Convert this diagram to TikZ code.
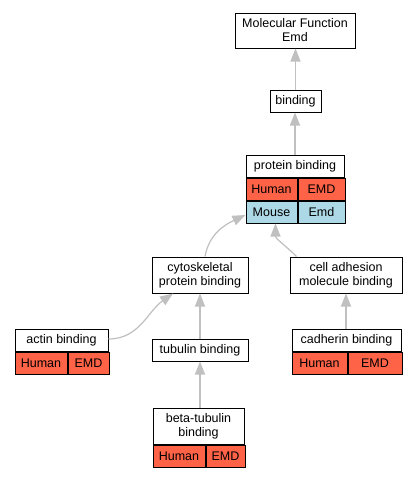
\documentclass[tikz,border=0pt]{standalone}
\usepackage{fontspec}
\setmainfont{Liberation Sans}
\usetikzlibrary{arrows.meta,positioning}
\definecolor{humanred}{HTML}{FF6347}
\definecolor{mouseblue}{HTML}{ADD8E6}
\definecolor{edgegray}{HTML}{C0C0C0}

\begin{document}
\begin{tikzpicture}[
		x=1pt, y=-1pt,
		every node/.style={font=\fontsize{12.5}{14}\selectfont},
		% Stijlen
		term/.style={draw=black, line width=1pt, fill=white, inner sep=0pt, align=center, minimum height=22pt},
		human/.style={term, fill=humanred},
		mouse/.style={term, fill=mouseblue},
		isa/.style={-{Triangle[length=13pt, width=10pt, fill=edgegray]}, draw=edgegray, line width=1.2pt}
	]

	% --- Canvas ---
	\fill[white] (0,0) rectangle (415,477);
	\useasboundingbox (0,0) rectangle (415,477);

	% --- 1. Bovenste termen ---
	\node[term, minimum width=120pt, minimum height=35pt] (mf) at (295,30.5) {Molecular Function\\Emd};
	\node[term, minimum width=51pt] (bind) at (295.5,101) {binding};

	% protein binding + orthologen
	\node[term, minimum width=98pt] (pb) at (295,166) {protein binding};
	\node[human, minimum width=51pt, anchor=north west] (pbH) at (pb.south west) {Human};
	\node[human, minimum width=47pt, right=0pt of pbH] (pbHg) {EMD};
	\node[mouse, minimum width=51pt, below=0pt of pbH] (pbM) {Mouse};
	\node[mouse, minimum width=47pt, right=0pt of pbM] (pbMg) {Emd};

	% --- 2. Middelste laag ---
	\node[term, minimum width=96pt, minimum height=36pt] (cyto) at (200,275) {cytoskeletal\\protein binding};
	\node[term, minimum width=112pt, minimum height=36pt] (cam) at (346,275) {cell adhesion\\molecule binding};

	% --- 3. Onderste laag ---
	\node[term, minimum width=93pt] (actin) at (61.5,340) {actin binding};
	\node[human, minimum width=52pt, anchor=north west] (actinH) at (actin.south west) {Human};
	\node[human, minimum width=41pt, right=0pt of actinH] (actinHg) {EMD};

	\node[term, minimum width=96pt] (tub) at (200,350) {tubulin binding};

	\node[term, minimum width=109pt] (cad) at (346.5,340) {cadherin binding};
	\node[human, minimum width=55pt, anchor=north west] (cadH) at (cad.south west) {Human};
	\node[human, minimum width=54pt, right=0pt of cadH] (cadHg) {EMD};

	\node[term, minimum width=91pt, minimum height=36pt] (btub) at (198.5,426) {beta-tubulin\\binding};
	\node[human, minimum width=52pt, anchor=north west] (btubH) at (btub.south west) {Human};
	\node[human, minimum width=39pt, right=0pt of btubH] (btubHg) {EMD};

	% --- 4. is_a pijlen ---
	\draw[isa] (bind.north) -- (bind.north |- mf.south);
	\draw[isa] (pb.north) -- (pb.north |- bind.south);
	\draw[isa] ([xshift=5pt]cyto.north) to[out=80, in=205] ([yshift=-3pt]pbM.west);
	\draw[isa] ([xshift=7pt]cam.north west) to[out=135, in=-90] ([xshift=4pt]pbM.south);
	\draw[isa] ([yshift=1pt]actin.east) to[out=0, in=215] ([xshift=-27pt]cyto.south);
	\draw[isa] (tub.north) -- (cyto.south);
	\draw[isa] (btub.north -| tub.south) -- (tub.south);
	\draw[isa] (cad.north -| cam.south) -- (cam.south);

\end{tikzpicture}
\end{document}
